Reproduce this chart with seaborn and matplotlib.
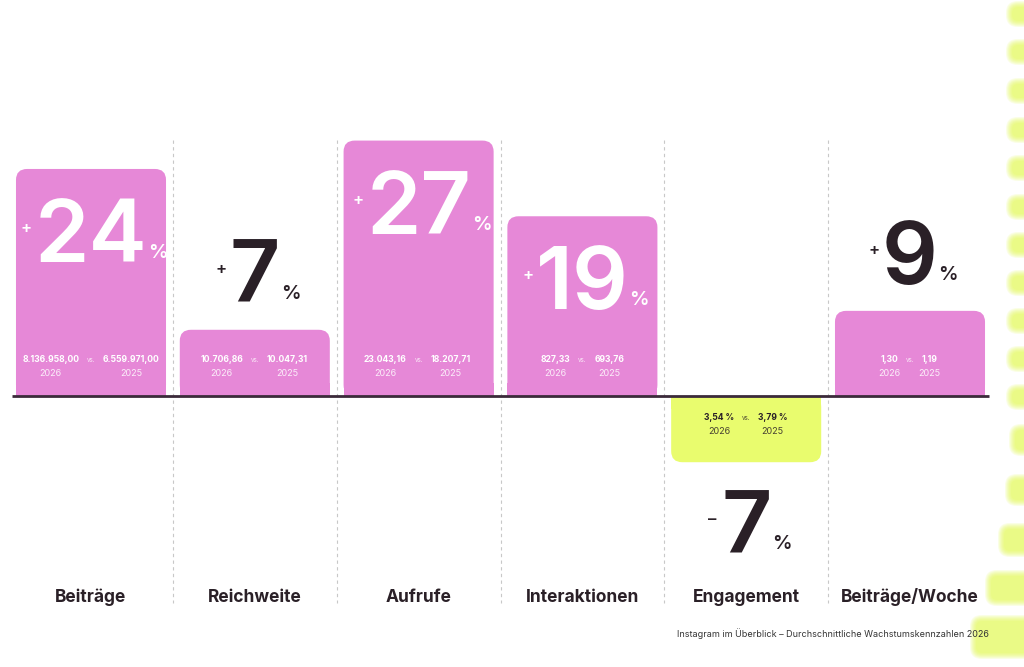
import matplotlib
matplotlib.use("Agg")
import matplotlib.pyplot as plt
import seaborn as sns
import pandas as pd
from matplotlib.patches import FancyBboxPatch, Rectangle

# ---- data ----
categories = ["Beiträge", "Reichweite", "Aufrufe", "Interaktionen", "Engagement", "Beiträge/Woche"]
growth_pct = [24, 7, 27, 19, -7, 9]
values_2026 = ["8.136.958,00", "10.706,86", "23.043,16", "827,33", "3,54 %", "1,30"]
values_2025 = ["6.559.971,00", "10.047,31", "18.207,71", "693,76", "3,79 %", "1,19"]
year_labels = ["2026", "2025"]
footer = "Instagram im Überblick – Durchschnittliche Wachstumskennzahlen 2026"

PINK = "#E688D7"
GREEN = "#E9FC6E"
DARK = "#2A2027"
LINE = "#3B2A3A"

sns.set_theme(style="white")
plt.rcParams['font.family'] = ['Inter', 'DejaVu Sans']

W, H = 1024, 667
fig = plt.figure(figsize=(W / 100, H / 100), dpi=100)
fig.patch.set_facecolor("white")

# decorative soft strokes on the right edge
bg = fig.add_axes([0, 0, 1, 1], zorder=0)
bg.set_xlim(0, W)
bg.set_ylim(H, 0)
bg.axis("off")
deco_y = [14, 52, 91, 130, 168, 207, 245, 283, 321, 359, 397, 440, 490, 540, 588, 637]
deco_x = [1012] * 11 + [1015, 1011, 1004, 991, 976]
deco_h = [14] * 11 + [20, 20, 22, 24, 32]
for yc, xs, hh in zip(deco_y, deco_x, deco_h):
    for grow in range(6, -1, -1):
        bg.add_patch(FancyBboxPatch((xs - grow, yc - hh / 2 - grow), 70, hh + 2 * grow,
                                    boxstyle=f"round,pad=0,rounding_size={6 + grow}",
                                    fc="#E2FA4A", ec="none", alpha=0.14, lw=0))

# main axes: pixel mapping
px_per_cat = 163.8
px_per_unit = 9.46
base_px = 396
ylo, yhi = -24, 31
left_px = 91 - px_per_cat / 2
top_px = base_px - yhi * px_per_unit
bot_px = base_px - ylo * px_per_unit
ax = fig.add_axes([left_px / W, (H - bot_px) / H, 6 * px_per_cat / W, (bot_px - top_px) / H], zorder=1)
ax.patch.set_alpha(0)

df = pd.DataFrame({"Kategorie": categories, "Wachstum": growth_pct})
colors = [PINK if v > 0 else GREEN for v in growth_pct]
sns.barplot(data=df, x="Kategorie", y="Wachstum", hue="Kategorie", palette=colors,
            legend=False, width=0.916, ax=ax, saturation=1)

ax.set_xlim(-0.5, 5.5)
ax.set_ylim(ylo, yhi)
ax.axis("off")

def px2y(p):
    return p / px_per_unit

r_x = 0.068
r_y = px2y(11)
ma = r_y / r_x

bars = list(ax.patches)
for i, p in enumerate(bars):
    x0, w, h, y0 = p.get_x(), p.get_width(), p.get_height(), p.get_y()
    col = p.get_facecolor()
    p.set_visible(False)
    yb = min(y0, y0 + h)
    hh = abs(h)
    ax.add_patch(FancyBboxPatch((x0, yb), w, hh,
                                boxstyle=f"round,pad=0,rounding_size={r_x}",
                                mutation_aspect=ma, fc=col, ec="none", zorder=2))
    # square corners at baseline
    if h >= 0:
        ax.add_patch(Rectangle((x0, 0), w, r_y * 1.2, fc=col, ec="none", zorder=2))
    else:
        ax.add_patch(Rectangle((x0, -r_y * 1.2), w, r_y * 1.2, fc=col, ec="none", zorder=2))

    xc = x0 + w / 2
    val = growth_pct[i]
    positive = val > 0
    inside = positive and hh > px2y(150)
    num_col = "white" if inside else DARK
    if inside:
        yb_num = val - px2y(93)
    elif positive:
        yb_num = val + px2y(27)
    else:
        yb_num = val - px2y(91)
    num = ax.text(xc, yb_num, f"{abs(val)}", ha="center", va="baseline",
                  fontsize=63, fontweight="semibold", color=num_col, zorder=4)
    sign = "+" if positive else "–"
    ax.annotate(sign, xy=(0, yb_num), xycoords=(num, "data"),
                xytext=(-6, 24), textcoords="offset points",
                ha="center", va="center", fontsize=12, fontweight="semibold",
                color=num_col, zorder=4)
    ax.annotate("%", xy=(1, yb_num), xycoords=(num, "data"),
                xytext=(7.5, 6.5), textcoords="offset points",
                ha="center", va="center", fontsize=14, fontweight="semibold",
                color=num_col, zorder=4)

    # small comparison labels
    sub_col = "white" if positive else DARK
    if positive:
        yv, yy = px2y(36), px2y(22)
    else:
        yv, yy = -px2y(22), -px2y(35)
    ax.text(xc, yv, "vs.", ha="center", va="center", fontsize=4.5,
            color=sub_col, alpha=0.8, zorder=4)
    lt = ax.annotate(values_2026[i], xy=(xc, yv), xycoords="data",
                     xytext=(-8.5, 0), textcoords="offset points",
                     ha="right", va="center", fontsize=6.2, fontweight="bold",
                     color=sub_col, zorder=4)
    rt = ax.annotate(values_2025[i], xy=(xc, yv), xycoords="data",
                     xytext=(8.5, 0), textcoords="offset points",
                     ha="left", va="center", fontsize=6.2, fontweight="bold",
                     color=sub_col, zorder=4)
    for t, yl in zip((lt, rt), year_labels):
        ax.annotate(yl, xy=(0.5, yy), xycoords=(t, "data"),
                    ha="center", va="center", fontsize=6.5,
                    color=sub_col, alpha=0.85, zorder=4)

    # category label
    ax.text(xc, px2y(base_px - 597), categories[i], ha="center", va="center",
            fontsize=12.5, fontweight="bold", color=DARK, zorder=4)

# dashed dividers
for k in range(len(categories) - 1):
    ax.plot([k + 0.5, k + 0.5], [px2y(base_px - 140), px2y(base_px - 603)],
            color="#C8C8C8", lw=0.8, ls=(0, (3, 3)), zorder=1)

# baseline
ax.plot([-0.48, 5.48], [0, 0], color=LINE, lw=2, zorder=3, solid_capstyle="butt")

fig.text(989 / W, (H - 634) / H, footer, ha="right", va="center",
         fontsize=6.5, color="#333333")

fig.savefig("out.png", dpi=100)
